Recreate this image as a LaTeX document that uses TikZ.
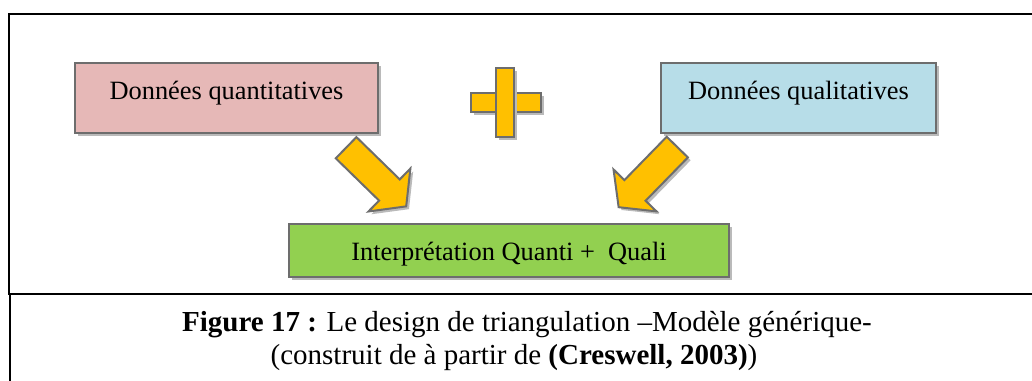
\documentclass[tikz,border=0pt]{standalone}
\usepackage{fontspec}
\setmainfont{Liberation Serif}
\usetikzlibrary{shapes.arrows,shadows}

\definecolor{quantipink}{HTML}{E6B8B7}
\definecolor{qualiblue}{HTML}{B7DDE8}
\definecolor{interpgreen}{HTML}{92D050}
\definecolor{plusorange}{HTML}{FFC000}
\definecolor{edgegray}{HTML}{6D6D6D}

\tikzset{
	boxshadow/.style={drop shadow={shadow xshift=1.4pt, shadow yshift=-1.4pt, fill=black!27, opacity=1}},
	databox/.style={draw=edgegray, line width=1pt, inner sep=0pt, boxshadow,
		font=\fontsize{13.2}{15}\selectfont, text height=18pt},
	bigarrow/.style={single arrow, draw=edgegray, line width=1pt, fill=plusorange,
		inner xsep=0pt, inner ysep=6.9pt,
		minimum height=42pt, minimum width=29pt, single arrow head extend=7.6pt,
		single arrow tip angle=104, boxshadow},
	plusbar/.style={draw=edgegray, line width=1pt, fill=plusorange, inner sep=0pt, boxshadow},
	caption/.style={anchor=base, font=\fontsize{14.5}{17}\selectfont}
}

\begin{document}
\begin{tikzpicture}[x=0.5pt, y=-0.5pt]
	%%%%% frame %%%%%
	\useasboundingbox (0,0) rectangle (1032,380);
	\draw[line width=1pt] (8.5,294) -- (8.5,14) -- (1040,14);
	\draw[line width=1.1pt] (8,294) -- (1040,294);
	\draw[line width=1pt] (10,294) -- (10,390);

	%%%%% boxes %%%%%
	\node[databox, fill=quantipink, anchor=north, minimum width=151.5pt, text depth=17pt] (quanti) at (226.5,62) {Données quantitatives};
	\node[databox, fill=qualiblue, anchor=north, minimum width=137.5pt, text depth=17pt] (quali) at (798.5,62) {Données qualitatives};
	\node[databox, fill=interpgreen, anchor=north, minimum width=220pt, text depth=8.5pt] (interp) at (509,223) {Interprétation Quanti +~ Quali};

	%%%%% plus %%%%%
	\node[plusbar, minimum width=35pt, minimum height=9.5pt] (plush) at (506,102.5) {};
	\node[plusbar, minimum width=9pt, minimum height=34.5pt] (plusv) at (505,102.5) {};

	%%%%% arrows %%%%%
	\node[bigarrow, rotate=-44.3] (arrquanti) at (372,173) {};
	\node[bigarrow, rotate=-134.3] (arrquali) at (652,173) {};

	%%%%% caption %%%%%
	\node[caption] (cap1) at (527,331) {\textbf{Figure 17 :} Le design de triangulation –Modèle générique-};
	\node[caption] (cap2) at (514,364) {(construit de à partir de \textbf{(Creswell, 2003)})};
\end{tikzpicture}
\end{document}
